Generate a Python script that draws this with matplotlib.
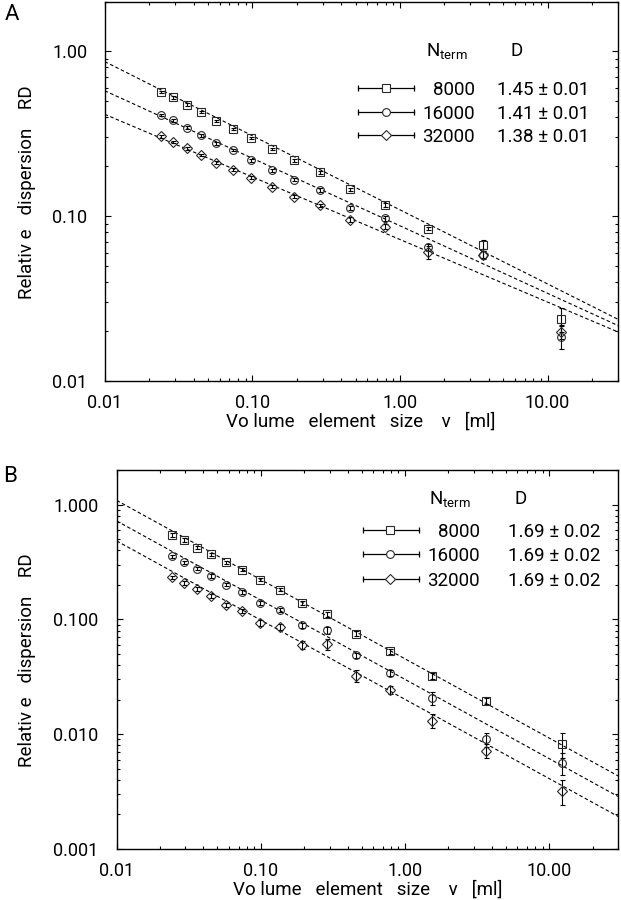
import matplotlib
matplotlib.use('Agg')
import matplotlib.pyplot as plt
from matplotlib.lines import Line2D
from matplotlib.ticker import FixedLocator, FixedFormatter, LogLocator, NullFormatter
import numpy as np

plt.rcParams['font.family'] = ['Roboto', 'DejaVu Sans']
plt.rcParams['mathtext.fontset'] = 'custom'
plt.rcParams['mathtext.rm'] = 'Roboto'
plt.rcParams['mathtext.it'] = 'Roboto:italic'

# ---------------- data ----------------
volume = [0.0240, 0.0292, 0.0359, 0.0448, 0.0570, 0.0739, 0.0984, 0.135,
          0.192, 0.287, 0.456, 0.787, 1.54, 3.64, 12.3]
n_term = ['8000', '16000', '32000']
markers = ['s', 'o', 'D']

# Panel A
a_rd = [
    [0.567, 0.525, 0.474, 0.427, 0.378, 0.338, 0.297, 0.254, 0.218, 0.184, 0.1455, 0.117, 0.0838, 0.0671, 0.0238],
    [0.411, 0.380, 0.344, 0.309, 0.276, 0.251, 0.218, 0.189, 0.166, 0.144, 0.112, 0.0967, 0.0646, 0.0583, 0.0185],
    [0.305, 0.281, 0.257, 0.235, 0.211, 0.191, 0.171, 0.151, 0.131, 0.116, 0.095, 0.0862, 0.0602, 0.0581, 0.0198],
]
a_err = [
    [0.010, 0.010, 0.008, 0.007, 0.006, 0.005, 0.004, 0.004, 0.004, 0.004, 0.003, 0.003, 0.002, 0.004, 0.004],
    [0.008, 0.007, 0.006, 0.006, 0.005, 0.004, 0.004, 0.004, 0.004, 0.004, 0.003, 0.003, 0.003, 0.003, 0.003],
    [0.006, 0.005, 0.005, 0.004, 0.004, 0.004, 0.003, 0.003, 0.003, 0.003, 0.003, 0.003, 0.0055, 0.003, 0.002],
]
a_D = [1.45, 1.41, 1.38]
a_Derr = [0.01, 0.01, 0.01]
a_fit_at_1ml = [0.109, 0.0872, 0.0720]

# Panel B
b_rd = [
    [0.540, 0.488, 0.422, 0.369, 0.314, 0.271, 0.222, 0.181, 0.139, 0.1105, 0.0750, 0.0526, 0.0323, 0.0195, 0.0082],
    [0.354, 0.314, 0.277, 0.239, 0.2006, 0.173, 0.139, 0.120, 0.0886, 0.0801, 0.0485, 0.0339, 0.0206, 0.0090, 0.0056],
    [0.232, 0.208, 0.184, 0.159, 0.133, 0.119, 0.0930, 0.0858, 0.0601, 0.0610, 0.0323, 0.0242, 0.0131, 0.0072, 0.0032],
]
b_err = [
    [0.020, 0.020, 0.015, 0.012, 0.010, 0.008, 0.007, 0.006, 0.005, 0.006, 0.004, 0.003, 0.002, 0.0012, 0.002],
    [0.012, 0.010, 0.009, 0.008, 0.007, 0.006, 0.006, 0.005, 0.004, 0.006, 0.002, 0.002, 0.0025, 0.0012, 0.0012],
    [0.008, 0.007, 0.006, 0.006, 0.005, 0.005, 0.005, 0.005, 0.005, 0.007, 0.004, 0.002, 0.0018, 0.001, 0.0008],
]
b_D = [1.69, 1.69, 1.69]
b_Derr = [0.02, 0.02, 0.02]
b_fit_at_1ml = [0.0453, 0.0300, 0.0201]

x_ticks = [0.01, 0.1, 1.0, 10.0]
x_ticklabels = ['0.01', '0.10', '1.00', '10.00']
a_yticks = [0.01, 0.1, 1.0]
a_yticklabels = ['0.01', '0.10', '1.00']
b_yticks = [0.001, 0.01, 0.1, 1.0]
b_yticklabels = ['0.001', '0.010', '0.100', '1.000']

xlabel = 'Vo lume   element   size    v   [ml]'
ylabel = 'Relativ e   dispersion    RD'

# ---------------- figure ----------------
W, H = 621, 900
fig = plt.figure(figsize=(W / 100, H / 100), dpi=100)


def fx(px):
    return px / W


def fy(py):
    return 1 - py / H


def make_axes(left, right, top, bottom):
    return fig.add_axes([fx(left), fy(bottom), fx(right - left), (bottom - top) / H])


axA = make_axes(104.7, 618, 1.7, 380.7)
axB = make_axes(116.7, 618, 470, 849)

ec = '#2a2a2a'
msizes = {'s': 5.2, 'o': 5.6, 'D': 4.6}


def draw_panel(ax, rd, err, D, fit1, ylim, yticks, yticklabels, ypad):
    ax.set_xscale('log')
    ax.set_yscale('log')
    ax.set_xlim(0.01, 30)
    ax.set_ylim(*ylim)
    xs = np.array(ax.get_xlim())
    for i in range(3):
        ax.plot(xs, fit1[i] * xs ** (1 - D[i]), ls=(0, (3.2, 2.2)), color='black', lw=0.8, zorder=2)
    for i in range(3):
        ax.errorbar(volume, rd[i], yerr=err[i], fmt=markers[i], ms=msizes[markers[i]],
                    mfc='none', mec=ec, mew=0.8, ecolor='black', elinewidth=0.8,
                    capsize=1.8, capthick=0.8, zorder=3)
    ax.xaxis.set_major_locator(FixedLocator(x_ticks))
    ax.xaxis.set_major_formatter(FixedFormatter(x_ticklabels))
    ax.xaxis.set_minor_locator(LogLocator(base=10, subs=np.arange(2, 10), numticks=20))
    ax.xaxis.set_minor_formatter(NullFormatter())
    ax.yaxis.set_major_locator(FixedLocator(yticks))
    ax.yaxis.set_major_formatter(FixedFormatter(yticklabels))
    ax.yaxis.set_minor_locator(LogLocator(base=10, subs=np.arange(2, 10), numticks=20))
    ax.yaxis.set_minor_formatter(NullFormatter())
    ax.tick_params(which='both', direction='in', top=True, right=True, width=0.8)
    ax.tick_params(which='major', length=4.5, labelsize=13)
    ax.tick_params(which='minor', length=2.2)
    ax.tick_params(axis='x', which='major', pad=9.5)
    ax.tick_params(axis='y', which='major', pad=ypad)
    for s in ax.spines.values():
        s.set_linewidth(1.0)


draw_panel(axA, a_rd, a_err, a_D, a_fit_at_1ml, (0.01, 2.0), a_yticks, a_yticklabels, 12.5)
draw_panel(axB, b_rd, b_err, b_D, b_fit_at_1ml, (0.001, 2.0), b_yticks, b_yticklabels, 13.2)


def draw_legend(rows_y, line_x0, line_x1, mark_x, num_right, d_left, head_y, n_left, dhead_left, D, Derr):
    fig.text(fx(n_left), fy(head_y), r'N$_{\mathrm{term}}$', fontsize=13.5, ha='left', va='center_baseline')
    fig.text(fx(dhead_left), fy(head_y), 'D', fontsize=13.5, ha='left', va='center_baseline')
    for i, y in enumerate(rows_y):
        fig.add_artist(Line2D([fx(line_x0), fx(line_x1)], [fy(y), fy(y)], color='black', lw=0.9))
        fig.add_artist(Line2D([fx(line_x0), fx(line_x1)], [fy(y), fy(y)], ls='none', marker='|',
                              ms=5, mew=0.9, color='black'))
        fig.add_artist(Line2D([fx(mark_x)], [fy(y)], ls='none', marker=markers[i],
                              ms=msizes[markers[i]], mfc='white', mec=ec, mew=0.8))
        fig.text(fx(num_right), fy(y), n_term[i], fontsize=13.5, ha='right', va='center_baseline')
        fig.text(fx(d_left), fy(y), f'{D[i]:.2f} \u00b1 {Derr[i]:.2f}', fontsize=13.5,
                 ha='left', va='center_baseline')


draw_legend([88.3, 111.7, 135], 358, 414, 386, 475, 497, 48.5, 426, 511, a_D, a_Derr)
draw_legend([530, 554.3, 578.5], 363, 419, 390, 480, 508, 497, 429, 515, b_D, b_Derr)

# axis labels
fig.text(fx(361), fy(421.7), xlabel, fontsize=13.5, ha='center', va='center')
fig.text(fx(368), fy(890), xlabel, fontsize=13.5, ha='center', va='center')
fig.text(fx(27), fy(192), ylabel, fontsize=13.5, ha='center', va='center', rotation=90)
fig.text(fx(27), fy(660), ylabel, fontsize=13.5, ha='center', va='center', rotation=90)

# panel letters
fig.text(fx(12), fy(15), 'A', fontsize=16, ha='center', va='center')
fig.text(fx(10), fy(477), 'B', fontsize=16, ha='center', va='center')

fig.savefig('out.png', dpi=100)
